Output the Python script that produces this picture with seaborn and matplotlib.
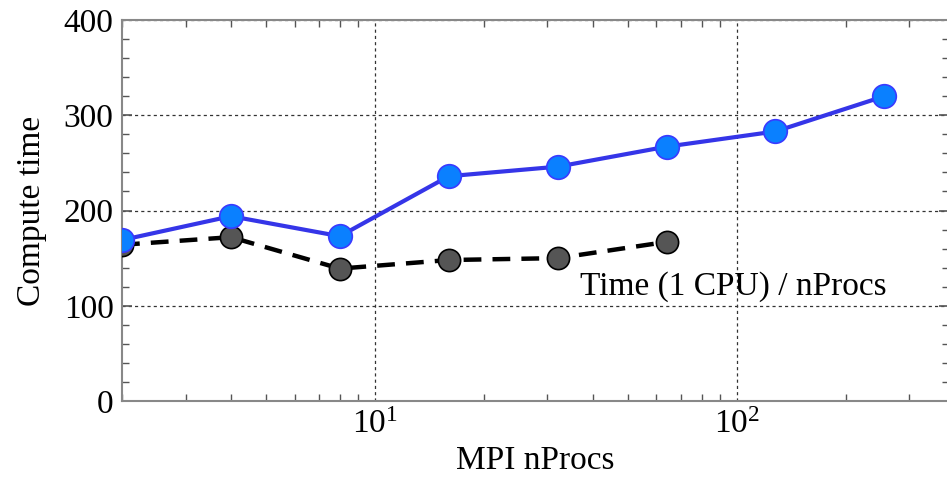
import matplotlib
matplotlib.use("Agg")
import matplotlib.pyplot as plt
import matplotlib.transforms as mtransforms
import seaborn as sns
import pandas as pd
from matplotlib.ticker import MultipleLocator, LogLocator, NullFormatter

nprocs_mpi = [2, 4, 8, 16, 32, 64, 128, 256]
time_mpi = [169, 194, 173, 236, 246, 267, 283, 320]
nprocs_ideal = [2, 4, 8, 16, 32, 64]
time_ideal = [164, 172, 139, 148, 150, 167]

sns.set_theme(style="white")
plt.rcParams["font.family"] = ["Liberation Serif", "DejaVu Serif"]
plt.rcParams["mathtext.fontset"] = "stix"
plt.rcParams["text.color"] = "black"
plt.rcParams["axes.labelcolor"] = "black"
plt.rcParams["xtick.labelcolor"] = "black"
plt.rcParams["ytick.labelcolor"] = "black"

df_mpi = pd.DataFrame({"n": nprocs_mpi, "t": time_mpi})
df_ideal = pd.DataFrame({"n": nprocs_ideal, "t": time_ideal})

fig = plt.figure(figsize=(9.47, 4.79), dpi=100)
ax = fig.add_axes([122 / 947, 1 - 401 / 479, (947 - 122) / 947 + 0.002, (401 - 20) / 479])

sns.lineplot(data=df_ideal, x="n", y="t", ax=ax, color="black", lw=3.2,
             linestyle=(0, (4, 2.5)), marker="o", markersize=16,
             markerfacecolor="#555555", markeredgecolor="black",
             markeredgewidth=1.2, zorder=3)
sns.lineplot(data=df_mpi, x="n", y="t", ax=ax, color="#3535e8", lw=3,
             marker="o", markersize=17, markerfacecolor="#0a80ff",
             markeredgecolor="#3a3aff", markeredgewidth=1.2, zorder=4)

ax.set_xscale("log")
ax.set_xlim(2, 386)
ax.set_ylim(0, 400)
ax.yaxis.set_major_locator(MultipleLocator(100))
ax.yaxis.set_minor_locator(MultipleLocator(20))
ax.xaxis.set_major_locator(LogLocator(base=10))
ax.xaxis.set_minor_locator(LogLocator(base=10, subs=range(2, 10)))
ax.xaxis.set_minor_formatter(NullFormatter())

ax.grid(True, which="major", color="#333333", linestyle=(0, (2.5, 2.5)), lw=0.9)
ax.grid(False, which="minor")
for s in ax.spines.values():
    s.set_color("#888888")
    s.set_linewidth(1.5)

ax.tick_params(which="both", direction="in", top=True, right=True,
               bottom=True, left=True, color="#555555")
ax.tick_params(which="major", length=7, width=1.2, labelsize=24, pad=6,
               labelcolor="black")
ax.tick_params(which="minor", length=5, width=1.0)
ax.tick_params(axis="x", which="major", length=0)

ax.set_xlabel("MPI nProcs", fontsize=24, labelpad=4, color="black")
ax.set_ylabel("Compute time", fontsize=24, labelpad=12, color="black")

ax.text(580, 479 - 295, "Time (1 CPU) / nProcs",
        transform=mtransforms.IdentityTransform(), fontsize=24,
        color="black", ha="left", va="baseline")

fig.savefig("out.png", dpi=100)
